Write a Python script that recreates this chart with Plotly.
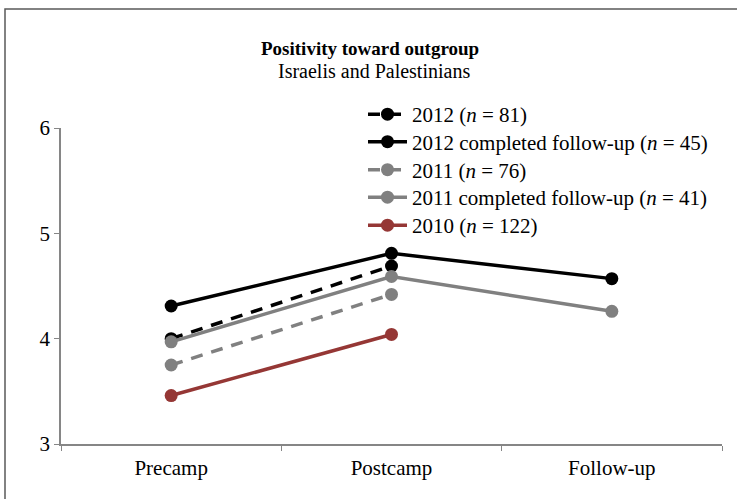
import plotly.graph_objects as go

categories = ["Precamp", "Postcamp", "Follow-up"]
names = [
    "2012 (<i>n</i> = 81)",
    "2012 completed follow-up (<i>n</i> = 45)",
    "2011 (<i>n</i> = 76)",
    "2011 completed follow-up (<i>n</i> = 41)",
    "2010 (<i>n</i> = 122)",
]
v2012 = [4.00, 4.69]
v2012_completed = [4.31, 4.81, 4.57]
v2011 = [3.75, 4.42]
v2011_completed = [3.97, 4.59, 4.26]
v2010 = [3.46, 4.04]

series = [v2012, v2012_completed, v2011, v2011_completed, v2010]
colors = ["#000000", "#000000", "#808080", "#808080", "#953735"]
dashes = ["dash", "solid", "dash", "solid", "solid"]

FONT = "Liberation Serif, Times New Roman, serif"

L, R, T, B = 61, 15, 128, 55
W, H = 737, 499
pw, ph = W - L - R, H - T - B

def px(xp):
    return (xp - L) / pw

def py(yp):
    return (H - B - yp) / ph

legend_rows = [114.5, 142, 170, 197.5, 225.5]
legend_ids = ["legend", "legend2", "legend3", "legend4", "legend5"]

fig = go.Figure()
for name, vals, col, dsh, lid in zip(names, series, colors, dashes, legend_ids):
    fig.add_trace(go.Scatter(
        x=categories[:len(vals)], y=vals, name=name, mode="lines+markers",
        line=dict(color=col, width=3.5, dash="12px,9px" if dsh == "dash" else "solid"),
        marker=dict(color=col, size=13),
        legend=lid,
    ))

legends = {}
for lid, row in zip(legend_ids, legend_rows):
    legends[lid] = dict(
        x=px(363), y=py(row), xanchor="left", yanchor="middle",
        xref="paper", yref="paper",
        font=dict(family=FONT, size=21, color="black"),
        bgcolor="rgba(0,0,0,0)", itemwidth=39, tracegroupgap=0,
        borderwidth=0,
    )

fig.update_layout(
    width=W, height=H,
    margin=dict(l=L, r=R, t=T, b=B),
    paper_bgcolor="white", plot_bgcolor="white",
    font=dict(family=FONT, size=21, color="black"),
    showlegend=True,
    **legends,
    xaxis=dict(
        type="category", categoryorder="array", categoryarray=categories,
        range=[-0.5, 2.5], showgrid=False, zeroline=False,
        showline=True, linecolor="#868686", linewidth=2,
        ticks="outside", tickson="boundaries", ticklen=5, tickcolor="#868686",
        ticklabelstandoff=4,
        tickfont=dict(family=FONT, size=21, color="black"),
    ),
    yaxis=dict(
        range=[3, 6], dtick=1, tick0=3, showgrid=False, zeroline=False,
        showline=True, linecolor="#868686", linewidth=1.5,
        ticks="outside", ticklen=5, tickcolor="#868686",
        tickfont=dict(family=FONT, size=21, color="black"),
    ),
    annotations=[
        dict(text="<b>Positivity toward outgroup</b>", x=px(370), y=py(48),
             xref="paper", yref="paper", xanchor="center", yanchor="middle",
             showarrow=False, font=dict(family=FONT, size=19, color="black")),
        dict(text="Israelis and Palestinians", x=px(374), y=py(71),
             xref="paper", yref="paper", xanchor="center", yanchor="middle",
             showarrow=False, font=dict(family=FONT, size=20, color="black")),
    ],
    shapes=[
        dict(type="rect", xref="paper", yref="paper",
             x0=px(5), x1=px(745), y0=py(9), y1=py(510),
             line=dict(color="#595959", width=1.5), layer="below"),
    ],
)

fig.write_html(
    "out.html",
    config={"displayModeBar": False},
    post_script="document.body.style.margin='0';document.body.style.overflow='hidden';",
)
